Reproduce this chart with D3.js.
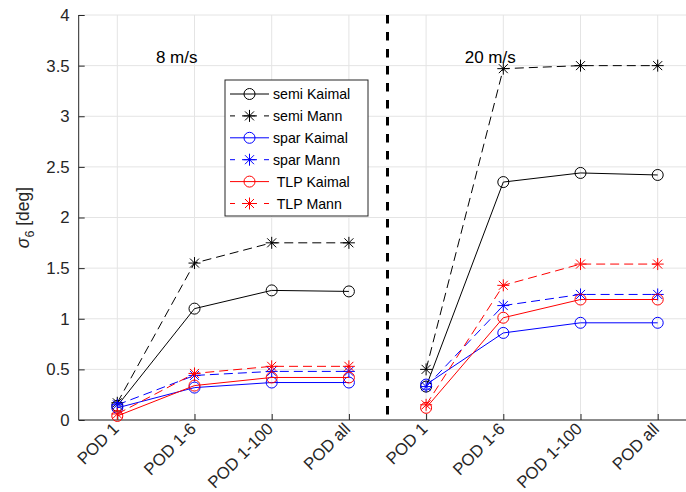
<!DOCTYPE html>
<html>
<head>
<meta charset="utf-8">
<script src="https://cdn.jsdelivr.net/npm/d3@7"></script>
<style>
  html, body { margin: 0; padding: 0; background: #fff; }
  svg { display: block; font-family: "Liberation Sans", Arial, Helvetica, sans-serif; }
</style>
</head>
<body>
<svg id="chart" width="686" height="492"></svg>
<script>
// Reduction cases along the x axis, repeated for each wind speed
const categories = ["POD 1", "POD 1-6", "POD 1-100", "POD all"];
const speeds = ["8 m/s", "20 m/s"];
const yTicks = [0, 0.5, 1, 1.5, 2, 2.5, 3, 3.5, 4];

// sigma_6 [deg] per platform / turbulence model, for 8 m/s and 20 m/s
const semiKaimal8 = [0.14, 1.10, 1.28, 1.27];
const semiKaimal20 = [0.33, 2.35, 2.44, 2.42];
const semiMann8 = [0.17, 1.55, 1.75, 1.75];
const semiMann20 = [0.50, 3.47, 3.50, 3.50];
const sparKaimal8 = [0.12, 0.32, 0.37, 0.37];
const sparKaimal20 = [0.35, 0.86, 0.96, 0.96];
const sparMann8 = [0.15, 0.44, 0.48, 0.48];
const sparMann20 = [0.33, 1.13, 1.24, 1.24];
const tlpKaimal8 = [0.04, 0.34, 0.42, 0.42];
const tlpKaimal20 = [0.12, 1.01, 1.19, 1.19];
const tlpMann8 = [0.06, 0.46, 0.53, 0.53];
const tlpMann20 = [0.15, 1.33, 1.54, 1.54];

const seriesNames = ["semi Kaimal", "semi Mann", "spar Kaimal", "spar Mann", " TLP Kaimal", " TLP Mann"];
const seriesColors = ["#000000", "#000000", "#0000ff", "#0000ff", "#ff0000", "#ff0000"];
const seriesDashed = [false, true, false, true, false, true];
const seriesMarkers = ["o", "*", "o", "*", "o", "*"];
const seriesValues = [
  [semiKaimal8, semiKaimal20],
  [semiMann8, semiMann20],
  [sparKaimal8, sparKaimal20],
  [sparMann8, sparMann20],
  [tlpKaimal8, tlpKaimal20],
  [tlpMann8, tlpMann20]
];

const svg = d3.select("#chart");
const x = d3.scaleLinear().domain([0.5, 8.5]).range([78.7, 696.3]);
const y = d3.scaleLinear().domain([0, 4]).range([420, 15]);
const xPos = d3.range(1, 9);
const xLabels = categories.concat(categories);

const axisColor = "#262626";
const gridColor = "#e4e4e4";

// grid
const grid = svg.append("g");
grid.selectAll("line.gx").data(xPos).join("line")
  .attr("x1", d => x(d)).attr("x2", d => x(d))
  .attr("y1", y(0)).attr("y2", y(4))
  .attr("stroke", gridColor).attr("stroke-width", 1);
grid.selectAll("line.gy").data(yTicks).join("line")
  .attr("x1", x(0.5)).attr("x2", 686)
  .attr("y1", d => y(d)).attr("y2", d => y(d))
  .attr("stroke", gridColor).attr("stroke-width", 1);

// axes
const yAxis = d3.axisLeft(y).tickValues(yTicks).tickSize(-6).tickPadding(9)
  .tickFormat(d => d3.format("~g")(d));
const gy = svg.append("g").attr("transform", `translate(${x(0.5)},0)`).call(yAxis);
gy.select(".domain").attr("stroke", axisColor).attr("d", `M0,${y(4)}V${y(0)}`);
gy.selectAll(".tick line").attr("stroke", axisColor);
gy.selectAll(".tick text").attr("fill", "#262626").style("font-size", "16.8px")
  .style("font-family", "Liberation Sans, Arial, sans-serif");

const xAxis = d3.axisBottom(x).tickValues(xPos).tickSize(-6)
  .tickFormat((d, i) => xLabels[i]);
const gx = svg.append("g").attr("transform", `translate(0,${y(0)})`).call(xAxis);
gx.select(".domain").attr("stroke", axisColor).attr("d", `M${x(0.5)},0H686`);
gx.selectAll(".tick line").attr("stroke", axisColor);
gx.selectAll(".tick text")
  .attr("fill", "#262626")
  .style("font-size", "16.8px")
  .style("font-family", "Liberation Sans, Arial, sans-serif")
  .attr("text-anchor", "end")
  .attr("dy", null)
  .attr("y", 0)
  .attr("transform", "translate(2,10) rotate(-45)");

// separator between wind speeds
svg.append("line")
  .attr("x1", x(4.5)).attr("x2", x(4.5))
  .attr("y1", y(4)).attr("y2", y(0))
  .attr("stroke", "#000").attr("stroke-width", 3)
  .attr("stroke-dasharray", "8.5,8.5");

// wind speed titles
svg.append("text").attr("x", x(1.5)).attr("y", y(3.53)).attr("text-anchor", "start")
  .style("font-size", "17px").attr("fill", "#000").text(speeds[0]);
svg.append("text").attr("x", x(5.5)).attr("y", y(3.53)).attr("text-anchor", "start")
  .style("font-size", "17px").attr("fill", "#000").text(speeds[1]);

// y label
const ylab = svg.append("text")
  .attr("transform", `translate(29,${(y(0) + y(4)) / 2}) rotate(-90)`)
  .attr("text-anchor", "middle")
  .style("font-size", "17.5px").attr("fill", "#262626");
ylab.append("tspan").style("font-style", "italic").text("σ");
ylab.append("tspan").attr("dy", 5).style("font-size", "12.5px").text("6");
ylab.append("tspan").attr("dy", -5).text(" [deg]");

function drawMarker(g, type, cx, cy, color) {
  if (type === "o") {
    g.append("circle").attr("cx", cx).attr("cy", cy).attr("r", 5.5)
      .attr("fill", "none").attr("stroke", color).attr("stroke-width", 1);
  } else {
    const s = 6, d = 4.5;
    const p = `M${cx - s},${cy}H${cx + s}M${cx},${cy - s}V${cy + s}` +
      `M${cx - d},${cy - d}L${cx + d},${cy + d}M${cx - d},${cy + d}L${cx + d},${cy - d}`;
    g.append("path").attr("d", p).attr("stroke", color).attr("stroke-width", 1).attr("fill", "none");
  }
}

const line = d3.line().x(d => x(d[0])).y(d => y(d[1]));

seriesValues.forEach((groups, si) => {
  const g = svg.append("g");
  groups.forEach((vals, gi) => {
    const pts = vals.map((v, i) => [gi * 4 + i + 1, v]);
    g.append("path").attr("d", line(pts))
      .attr("fill", "none").attr("stroke", seriesColors[si]).attr("stroke-width", 1)
      .attr("stroke-dasharray", seriesDashed[si] ? "9,5" : null);
    pts.forEach(p => drawMarker(g, seriesMarkers[si], x(p[0]), y(p[1]), seriesColors[si]));
  });
});

// legend
const leg = svg.append("g");
const lx = 225, ly = 80, lw = 143, lh = 136;
leg.append("rect").attr("x", lx).attr("y", ly).attr("width", lw).attr("height", lh)
  .attr("fill", "#fff").attr("stroke", axisColor).attr("stroke-width", 1);
seriesNames.forEach((name, i) => {
  const ry = ly + 14 + i * 21.9;
  leg.append("line").attr("x1", lx + 5).attr("x2", lx + 44).attr("y1", ry).attr("y2", ry)
    .attr("stroke", seriesColors[i]).attr("stroke-width", 1)
    .attr("stroke-dasharray", seriesDashed[i] ? "5,7,15,7" : null);
  drawMarker(leg, seriesMarkers[i], lx + 24.5, ry, seriesColors[i]);
  leg.append("text").attr("x", lx + 48).attr("y", ry + 5)
    .style("font-size", "14.2px").style("white-space", "pre").attr("xml:space", "preserve")
    .attr("fill", "#000").text(name);
});
</script>
</body>
</html>
